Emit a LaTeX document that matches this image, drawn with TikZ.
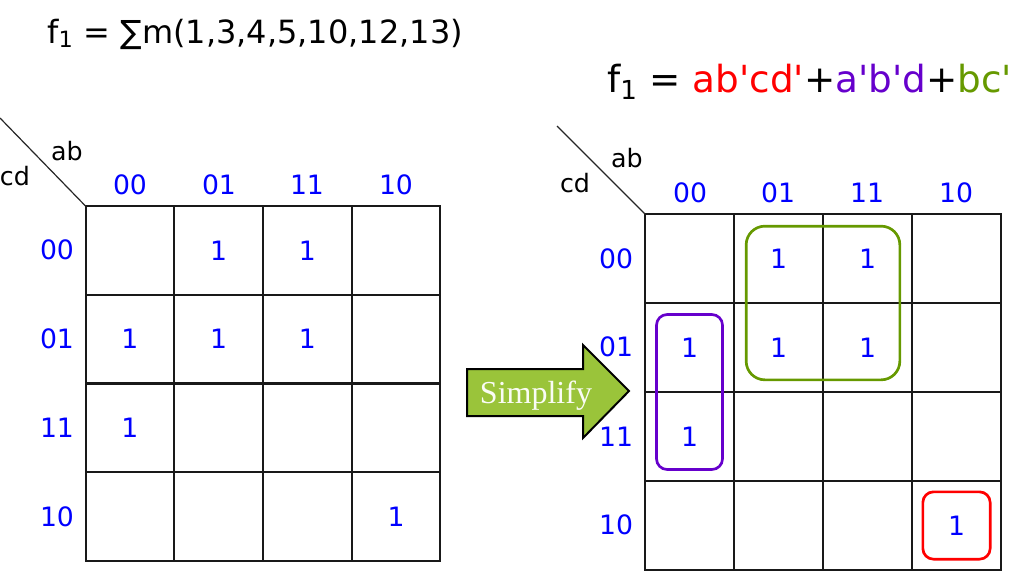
\documentclass[tikz,border=0pt]{standalone}
\usepackage{fontspec}
\setmainfont{DejaVu Sans}
\newfontfamily\simpfont{Liberation Serif}
\usepackage{xcolor}
\usepackage{tikz}
\usetikzlibrary{positioning, fit, calc}

\definecolor{kblue}{RGB}{0,0,255}
\definecolor{kred}{RGB}{255,0,0}
\definecolor{kpurple}{RGB}{102,0,204}
\definecolor{kgreen}{RGB}{102,153,0}
\definecolor{arrowgreen}{RGB}{154,196,58}
\newcommand{\kprime}{\textquotesingle}

\begin{document}
\begin{tikzpicture}[
    x=0.75pt, y=-0.75pt,
    cell/.style={rectangle, draw=black!90, line width=1.5pt, minimum size=66.5pt, inner sep=0pt, outer sep=0pt},
    one/.style={text=kblue, font=\fontsize{20}{24}\selectfont},
    hdr/.style={text=kblue, font=\fontsize{20}{24}\selectfont},
    var/.style={font=\fontsize{19}{23}\selectfont},
    title/.style={anchor=base west, inner sep=0pt},
    group/.style={rectangle, line width=2pt, inner sep=-8.5pt, rounded corners=8pt},
    simparrow/.style={draw=black, line width=1.5pt, fill=arrowgreen, line join=miter}
]
\useasboundingbox (0,0) rectangle (1017,579);

% Titles
\node[title, font=\fontsize{24}{29}\selectfont] (lefttitle) at (47,43) {f\textsubscript{1} = ∑m(1,3,4,5,10,12,13)};
\node[title, font=\fontsize{28}{33}\selectfont] (righttitle) at (607,92) {f\textsubscript{1} = \textcolor{kred}{ab\kprime cd\kprime}+\textcolor{kpurple}{a\kprime b\kprime d}+\textcolor{kgreen}{bc\kprime}};

% Left map
\foreach \r in {0,...,3}
  \foreach \c in {0,...,3}
    \node[cell] (L-\r-\c) at ({85.5+88.75*(\c+0.5)}, {206+88.75*(\r+0.5)}) {};

\coordinate (lcorner) at (0,118);
\draw[line width=0.9pt, black!85] (lcorner) -- (L-0-0.north west);
\node[var] (lab) at (67,151) {ab};
\node[var] (lcd) at (15,176) {cd};

\node[hdr] (Lc0) at (130,185) {00};
\node[hdr] (Lc1) at (219,185) {01};
\node[hdr] (Lc2) at (307,185) {11};
\node[hdr] (Lc3) at (396,185) {10};
\node[hdr] (Lr0) at (57,250) {00};
\node[hdr] (Lr1) at (57,339) {01};
\node[hdr] (Lr2) at (57,428) {11};
\node[hdr] (Lr3) at (57,517) {10};

\node[one] (l01) at (L-0-1) {1};
\node[one] (l02) at (L-0-2) {1};
\node[one] (l10) at (L-1-0) {1};
\node[one] (l11) at (L-1-1) {1};
\node[one] (l12) at (L-1-2) {1};
\node[one] (l20) at (L-2-0) {1};
\node[one] (l33) at (L-3-3) {1};

% Simplify arrow
\draw[simparrow] (467,369) -- (583,369) -- (583,345) -- (629,391) -- (583,438) -- (583,416) -- (467,416) -- cycle;
\node[anchor=base, text=white!95!arrowgreen, font=\simpfont\fontsize{24}{28}\selectfont] (simplify) at (536,403) {Simplify};

% Right map
\foreach \r in {0,...,3}
  \foreach \c in {0,...,3}
    \node[cell] (R-\r-\c) at ({645+89*(\c+0.5)}, {214+89*(\r+0.5)}) {};

\coordinate (rcorner) at (557,126);
\draw[line width=0.9pt, black!85] (rcorner) -- (R-0-0.north west);
\node[var] (rab) at (627,158) {ab};
\node[var] (rcd) at (575,183) {cd};

\node[hdr] (Rc0) at (690,193) {00};
\node[hdr] (Rc1) at (778,193) {01};
\node[hdr] (Rc2) at (867,193) {11};
\node[hdr] (Rc3) at (956,193) {10};
\node[hdr] (Rr0) at (616,259) {00};
\node[hdr] (Rr1) at (616,347) {01};
\node[hdr] (Rr2) at (616,437) {11};
\node[hdr] (Rr3) at (616,525) {10};

\node[one] (r01) at (R-0-1) {1};
\node[one] (r02) at (R-0-2) {1};
\node[one] (r10) at (R-1-0) {1};
\node[one] (r11) at (R-1-1) {1};
\node[one] (r12) at (R-1-2) {1};
\node[one] (r20) at (R-2-0) {1};
\node[one] (r33) at (R-3-3) {1};

% Groups
\node[group, draw=kgreen, rounded corners=14pt, inner sep=-9pt, fit=(R-0-1) (R-1-2)] (bcgroup) {};
\node[group, draw=kpurple, fit=(R-1-0) (R-2-0)] (abdgroup) {};
\node[group, draw=kred, inner sep=-8pt, fit=(R-3-3)] (abcdgroup) {};

\end{tikzpicture}
\end{document}
